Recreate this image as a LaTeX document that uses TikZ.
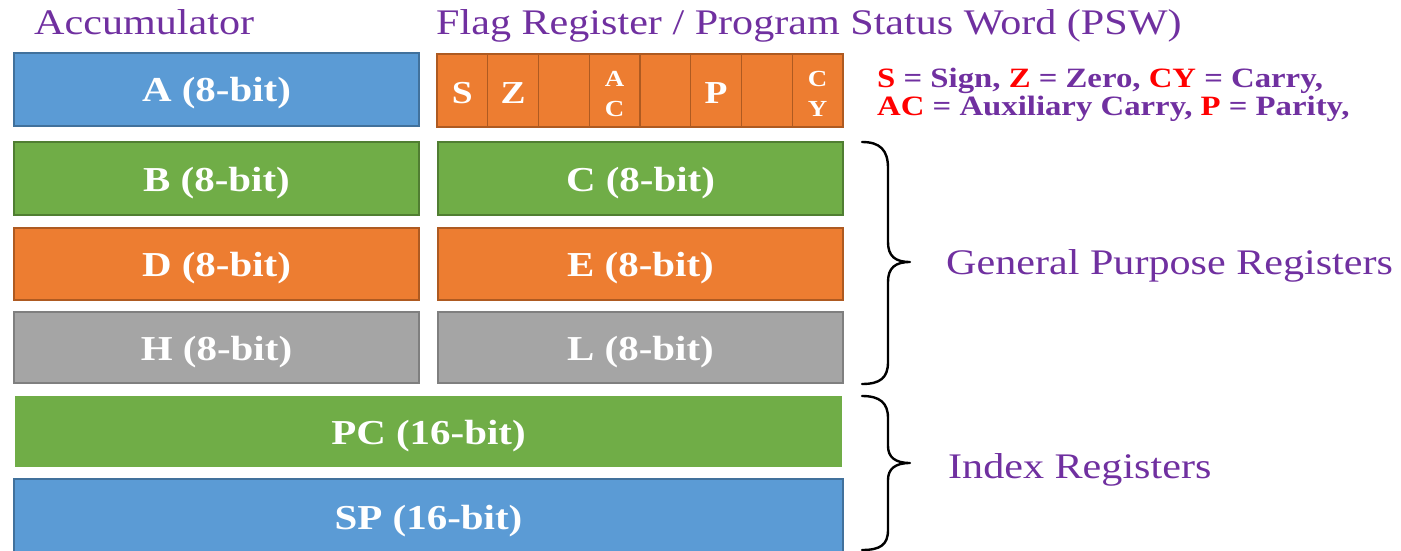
\documentclass[tikz,border=0pt]{standalone}
\usepackage{fontspec}
\setmainfont[FakeStretch=1.17]{Liberation Serif}

% Office-style palette: fill and a darker outline for each register colour
\definecolor{blueF}{HTML}{5B9BD5}
\definecolor{blueD}{HTML}{41719C}
\definecolor{greenF}{HTML}{70AD47}
\definecolor{greenD}{HTML}{507E32}
\definecolor{orangeF}{HTML}{ED7D31}
\definecolor{orangeD}{HTML}{AE5A21}
\definecolor{grayF}{HTML}{A5A5A5}
\definecolor{grayD}{HTML}{7F7F7F}
\definecolor{labelpurple}{HTML}{7030A0}
\definecolor{flagred}{HTML}{FF0000}

\newcommand\titlesize{\fontsize{36}{42}\selectfont}
\newcommand\regsize{\bfseries\fontsize{35}{40}\selectfont}
\newcommand\flagsize{\bfseries\fontsize{32}{36}\selectfont}
\newcommand\flagsmall{\bfseries\fontsize{23}{29}\selectfont}
\newcommand\legendsize{\bfseries\fontsize{28}{30}\selectfont}
\newcommand\rd[1]{\textcolor{flagred}{#1}}

\begin{document}
\begin{tikzpicture}[x=1pt,y=-1pt,
  reg/.style={draw=#1D, fill=#1F, line width=1.5pt, inner sep=0pt,
              text=white, font=\regsize, text height=25pt, text depth=0pt},
  flagcell/.style={draw=orangeD, fill=orangeF, line width=1.3pt, inner sep=0pt,
              minimum width=50.75pt, minimum height=73pt, text=white, font=\flagsize,
              text height=25pt, text depth=0pt},
  flagmini/.style={text=white, font=\flagsmall, inner sep=0pt, anchor=base},
  title/.style={text=labelpurple, font=\titlesize, inner sep=0pt, anchor=base west},
  legend/.style={text=labelpurple, font=\legendsize, inner sep=0pt, anchor=base west},
  bracepath/.style={draw=black, line width=2.4pt, line cap=round, line join=round}]

\useasboundingbox (0,0) rectangle (1401,551);

% headings
\node[title] (acctitle) at (34,35) {Accumulator};
\node[title] (flagtitle) at (436,35) {Flag Register / Program Status Word (PSW)};

% accumulator
\node[reg=blue, minimum width=405pt, minimum height=73pt] (A) at (216.5,89.5) {A (8-bit)};

% flag register cells
\node[flagcell] (f1) at (462.4,90.5) {S};
\node[flagcell] (f2) at (513.1,90.5) {Z};
\node[flagcell] (f3) at (563.9,90.5) {};
\node[flagcell] (f4) at (614.6,90.5) {};
\node[flagcell] (f5) at (665.4,90.5) {};
\node[flagcell] (f6) at (716.1,90.5) {P};
\node[flagcell] (f7) at (766.9,90.5) {};
\node[flagcell] (f8) at (817.6,90.5) {};
\node[flagmini] (f4top) at (614.6,87) {A};
\node[flagmini] (f4bot) at (614.6,116) {C};
\node[flagmini] (f8top) at (817.6,87) {C};
\node[flagmini] (f8bot) at (817.6,116) {Y};

% flag legend
\node[legend] (leg1) at (877,88) {\rd{S} = Sign, \rd{Z} = Zero, \rd{CY} = Carry,};
\node[legend] (leg2) at (877,115) {\rd{AC} = Auxiliary Carry, \rd{P} = Parity,};

% general purpose register pairs
\node[reg=green, minimum width=405pt, minimum height=73pt] (B) at (216.5,178.5) {B (8-bit)};
\node[reg=green, minimum width=405pt, minimum height=73pt] (C) at (640.5,178.5) {C (8-bit)};
\node[reg=orange, minimum width=405pt, minimum height=72pt] (D) at (216.5,264) {D (8-bit)};
\node[reg=orange, minimum width=405pt, minimum height=72pt] (E) at (640.5,264) {E (8-bit)};
\node[reg=gray, minimum width=405pt, minimum height=71pt] (H) at (216.5,347.5) {H (8-bit)};
\node[reg=gray, minimum width=405pt, minimum height=71pt] (L) at (640.5,347.5) {L (8-bit)};

% 16-bit registers
\node[reg=green, draw=greenF, minimum width=825pt, minimum height=69pt] (PC) at (428.5,431.5) {PC (16-bit)};
\node[reg=blue, minimum width=829pt, minimum height=76pt] (SP) at (428.5,517) {SP (16-bit)};

% braces
\draw[bracepath] (862,142) .. controls (880,142) and (888,150) .. (888,168)
  -- (888,242) .. controls (888,256) and (895,262) .. (910,262)
  .. controls (895,262) and (888,268) .. (888,282)
  -- (888,362) .. controls (888,378) and (880,384) .. (862,384);
\draw[bracepath] (862,396) .. controls (880,396) and (888,403) .. (888,418)
  -- (888,446) .. controls (888,457) and (895,463) .. (910,463)
  .. controls (895,463) and (888,469) .. (888,480)
  -- (888,530) .. controls (888,545) and (880,550) .. (862,550);

% group labels
\node[title] (gprlabel) at (946,274) {General Purpose Registers};
\node[title] (idxlabel) at (948,478) {Index Registers};
\end{tikzpicture}
\end{document}
